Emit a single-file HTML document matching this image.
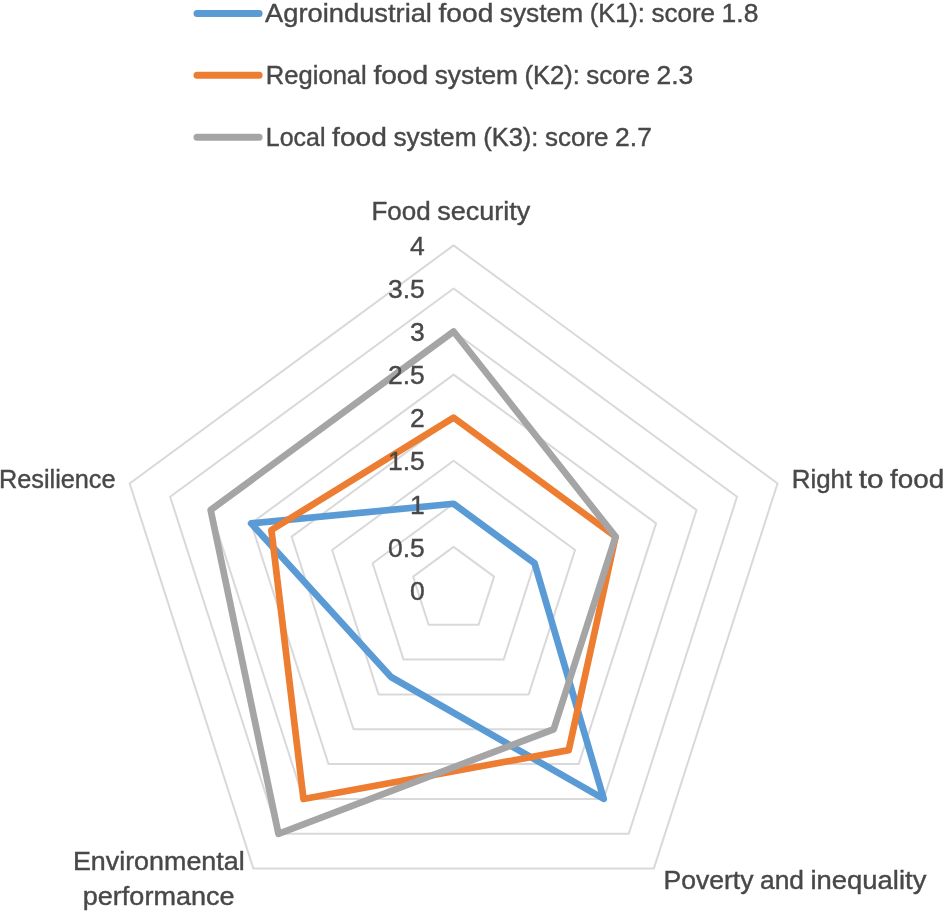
<!DOCTYPE html>
<html lang="en"><head><meta charset="utf-8"><title>Food system radar chart</title>
<style>
html,body{margin:0;padding:0;background:#fff;}
body{width:944px;height:914px;overflow:hidden;}
svg{display:block;}
text{font-family:"Liberation Sans",Arial,sans-serif;font-size:25.5px;fill:#484848;stroke:#484848;stroke-width:0.40px;}
</style></head><body>
<svg width="944" height="914" viewBox="0 0 944 914">
<rect width="944" height="914" fill="#fff"/>

<g fill="none" stroke="#d9d9d9" stroke-width="2" stroke-linejoin="round">
<polygon points="453.60,546.84 494.09,576.59 478.62,624.74 428.58,624.74 413.11,576.59"/>
<polygon points="453.60,503.77 534.58,563.29 503.65,659.58 403.55,659.58 372.62,563.29"/>
<polygon points="453.60,460.71 575.07,549.98 528.67,694.41 378.53,694.41 332.13,549.98"/>
<polygon points="453.60,417.65 615.56,536.67 553.70,729.25 353.50,729.25 291.64,536.67"/>
<polygon points="453.60,374.59 656.06,523.36 578.72,764.09 328.48,764.09 251.14,523.36"/>
<polygon points="453.60,331.52 696.55,510.06 603.75,798.93 303.45,798.93 210.65,510.06"/>
<polygon points="453.60,288.46 737.04,496.75 628.77,833.77 278.43,833.77 170.16,496.75"/>
<polygon points="453.60,245.40 777.53,483.44 653.80,868.61 253.40,868.61 129.67,483.44"/>
</g>
<g fill="none" stroke-width="6.7" stroke-linejoin="round" stroke-linecap="round">
<polygon stroke="#5b9bd5" points="453.60,503.77 534.58,563.29 603.75,798.93 391.04,677.00 251.14,523.36"/>
<polygon stroke="#ed7d31" points="453.60,417.65 615.56,536.67 568.71,750.16 303.45,798.93 271.39,530.02"/>
<polygon stroke="#a5a5a5" points="453.60,331.52 615.56,536.67 553.70,729.25 278.43,833.77 210.65,510.06"/>
</g>
<line x1="197" y1="13.5" x2="259.1" y2="13.5" stroke="#5b9bd5" stroke-width="7" stroke-linecap="round"/>
<line x1="197" y1="75.3" x2="259.1" y2="75.3" stroke="#ed7d31" stroke-width="7" stroke-linecap="round"/>
<line x1="197" y1="137.2" x2="259.1" y2="137.2" stroke="#a5a5a5" stroke-width="7" stroke-linecap="round"/>
<text transform="translate(265.10 21.80) scale(1.0702 1)">Agroindustrial</text>
<text transform="translate(438.52 21.80) scale(1.1035 1)">food</text>
<text transform="translate(499.85 21.80) scale(1.0310 1)">system</text>
<text transform="translate(589.69 21.80) scale(0.9991 1)">(K1):</text>
<text transform="translate(651.46 21.80) scale(1.0191 1)">score</text>
<text transform="translate(721.57 21.80) scale(1.0026 1)" style="font-size:26.4px">1.8</text>
<text transform="translate(265.80 83.60) scale(1.0037 1)">Regional</text>
<text transform="translate(373.40 83.60) scale(1.1035 1)">food</text>
<text transform="translate(434.73 83.60) scale(1.0310 1)">system</text>
<text transform="translate(524.56 83.60) scale(0.9991 1)">(K2):</text>
<text transform="translate(586.34 83.60) scale(1.0191 1)">score</text>
<text transform="translate(656.45 83.60) scale(1.0026 1)" style="font-size:26.4px">2.3</text>
<text transform="translate(265.80 145.50) scale(0.9793 1)">Local</text>
<text transform="translate(332.07 145.50) scale(1.1035 1)">food</text>
<text transform="translate(393.40 145.50) scale(1.0310 1)">system</text>
<text transform="translate(483.23 145.50) scale(0.9991 1)">(K3):</text>
<text transform="translate(545.00 145.50) scale(1.0191 1)">score</text>
<text transform="translate(615.12 145.50) scale(1.0026 1)" style="font-size:26.4px">2.7</text>
<text transform="translate(371.50 220.10) scale(1.0194 1)">Food</text>
<text transform="translate(437.32 220.10) scale(1.0590 1)">security</text>
<text transform="translate(791.70 488.30) scale(1.0162 1)">Right</text>
<text transform="translate(858.70 488.30) scale(1.1661 1)">to</text>
<text transform="translate(890.00 488.30) scale(1.0925 1)">food</text>
<text transform="translate(663.50 888.70) scale(1.0414 1)">Poverty</text>
<text transform="translate(760.03 888.70) scale(1.0341 1)">and</text>
<text transform="translate(810.53 888.70) scale(1.0754 1)">inequality</text>
<text transform="translate(72.90 869.60) scale(1.0540 1)">Environmental</text>
<text transform="translate(82.80 905.40) scale(1.0600 1)">performance</text>
<text transform="translate(-1.00 487.90) scale(0.9914 1)">Resilience</text>
<text transform="translate(410.08 600.00) scale(1.0032 1)" style="font-size:26.4px">0</text>
<text transform="translate(388.02 556.83) scale(1.0026 1)" style="font-size:26.4px">0.5</text>
<text transform="translate(410.08 513.65) scale(1.0032 1)" style="font-size:26.4px">1</text>
<text transform="translate(388.02 470.48) scale(1.0026 1)" style="font-size:26.4px">1.5</text>
<text transform="translate(410.08 427.31) scale(1.0032 1)" style="font-size:26.4px">2</text>
<text transform="translate(388.02 384.14) scale(1.0026 1)" style="font-size:26.4px">2.5</text>
<text transform="translate(410.08 340.96) scale(1.0032 1)" style="font-size:26.4px">3</text>
<text transform="translate(388.02 297.79) scale(1.0026 1)" style="font-size:26.4px">3.5</text>
<text transform="translate(410.08 254.62) scale(1.0032 1)" style="font-size:26.4px">4</text>
</svg></body></html>
